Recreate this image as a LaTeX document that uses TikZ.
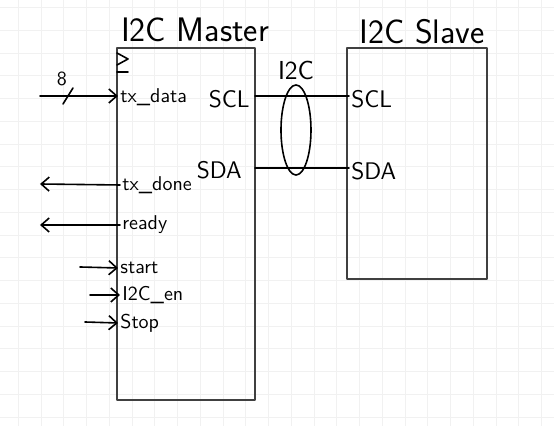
\documentclass[tikz,border=0pt]{standalone}
\usetikzlibrary{positioning,shapes.geometric,arrows.meta}
\begin{document}
\begin{tikzpicture}[x=0.5pt,y=-0.5pt,>={Straight Barb[length=4pt,width=7pt]}, font=\sffamily, line join=round, line cap=round]
			\def\xmin{0} \def\xmax{554}
			\def\ymin{0} \def\ymax{426}
			\tikzset{gridline/.style={color=gray!11,line width=0.4pt},
				blk/.style={draw=black!75,line width=0.7pt,inner sep=0pt,outer sep=0pt,anchor=north west},
				port/.style={inner sep=1pt,anchor=west,font=\sffamily\fontsize{10}{12}\selectfont},
				pin/.style={inner sep=1pt,font=\sffamily\fontsize{12}{14}\selectfont},
				wire/.style={line width=0.8pt}}
			\useasboundingbox (\xmin,\ymin) rectangle (\xmax,\ymax);
			\foreach \i in {0,...,23} \draw[gridline] ({18.25+22.75*\i},\ymin) -- ({18.25+22.75*\i},\ymax);
			\foreach \j in {0,...,18} \draw[gridline] (\xmin,{7.5+22.75*\j}) -- (\xmax,{7.5+22.75*\j});
			% blocks
			\node[blk,minimum width=69pt,minimum height=176pt] (master) at (117,48) {};
			\node[blk,minimum width=70pt,minimum height=115.5pt] (slave) at (347,48) {};
			\node[font=\sffamily\fontsize{17}{20}\selectfont] (mtitle) at (195,30) {I2C Master};
			\node[font=\sffamily\fontsize{17}{20}\selectfont] (stitle) at (422,32) {I2C Slave};
			\draw[wire] (117,53) -- (128,59) -- (117,65) (117,72) -- (128,72);
			% master ports
			\node[port] (txdata) at (118,97) {tx\_data};
			\node[port] (txdone) at (120,185) {tx\_done};
			\node[port] (ready) at (120,225) {ready};
			\node[port] (start) at (118,268) {start};
			\node[port] (i2cen) at (120,295) {I2C\_en};
			\node[port] (stop) at (118,323) {Stop};
			\coordinate (txin) at (40,96);
			\coordinate (txdoneout) at (40,184);
			\coordinate (readyout) at (40,225);
			\coordinate (startin) at (80,267);
			\coordinate (i2cenin) at (90,295);
			\coordinate (stopin) at (85,322);
			\draw[wire,->] (txin) -- (txdata.west |- txin);
			\draw[wire] (63,104) -- (73,88);
			\node[port,anchor=center] (width) at (62,79) {8};
			\draw[wire,->] (txdone.west) -- (txdoneout);
			\draw[wire,->] (ready.west) -- (readyout);
			\draw[wire,->] (startin) -- (start.west);
			\draw[wire,->] (i2cenin) -- (i2cen.west);
			\draw[wire,->] (stopin) -- (stop.west);
			% i2c bus
			\node[pin,anchor=east] (mscl) at (252,99) {SCL};
			\node[pin,anchor=east] (msda) at (244,170) {SDA};
			\node[pin,anchor=west] (sscl) at (349,99) {SCL};
			\node[pin,anchor=west] (ssda) at (349,171) {SDA};
			\draw[wire] (master.east |- 0,96) -- (sscl.west |- 0,96);
			\draw[wire] (master.east |- 0,168) -- (ssda.west |- 0,168);
			\node[draw,ellipse,line width=0.8pt,minimum width=15pt,minimum height=45pt,inner sep=0pt] (bus) at (296,130) {};
			\node[pin,above=1pt of bus,font=\sffamily\fontsize{13}{15}\selectfont] (buslbl) {I2C};
	\end{tikzpicture}
\end{document}
